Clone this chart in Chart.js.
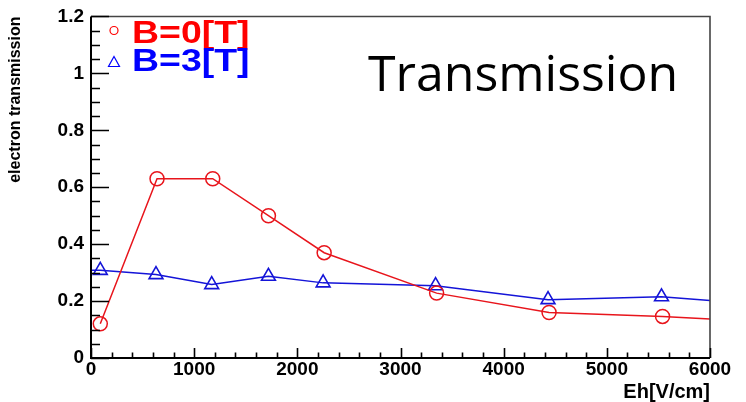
<!DOCTYPE html>
<html>
<head>
<meta charset="utf-8">
<script src="https://cdn.jsdelivr.net/npm/chart.js@4/dist/chart.umd.min.js"></script>
<style>
  html, body { margin: 0; padding: 0; background: #ffffff; }
  #wrap { width: 746px; height: 402px; position: relative; }
</style>
</head>
<body>
<div id="wrap"><canvas id="c" width="746" height="402"></canvas></div>
<script>
// Electron transmission vs. hole field, with and without magnetic field
const seriesNames = ['B=0[T]', 'B=3[T]'];
const fieldB0 = [90, 640, 1180, 1720, 2260, 3350, 4440, 5540];
const transB0 = [0.12, 0.63, 0.63, 0.50, 0.37, 0.228, 0.16, 0.146];
const fieldB3 = [90, 630, 1170, 1720, 2250, 3340, 4430, 5530];
const transB3 = [0.308, 0.293, 0.258, 0.287, 0.264, 0.254, 0.205, 0.215];
// where each curve meets the frame
const tailB0 = [6000, 0.137];
const headB3 = [0, 0.308];
const tailB3 = [6000, 0.202];

const xTickValues = [0, 1000, 2000, 3000, 4000, 5000, 6000];
const xTickLabels = ['0', '1000', '2000', '3000', '4000', '5000', '6000'];
const yTickValues = [0, 0.2, 0.4, 0.6, 0.8, 1.0, 1.2];
const yTickLabels = ['0', '0.2', '0.4', '0.6', '0.8', '1', '1.2'];

const plotTitle = 'Transmission';
const xTitle = 'Eh[V/cm]';
const yTitle = 'electron transmission';

const RED = '#ff0000';
const BLUE = '#0000ff';
const RED_LINE = '#e8151c';
const BLUE_LINE = '#1414d8';
const LABEL_FONT = 'Liberation Sans, Arial, sans-serif';

function points(xs, ys) {
  return xs.map((x, i) => ({ x: x, y: ys[i] }));
}

const dataB0 = points(fieldB0, transB0).concat([{ x: tailB0[0], y: tailB0[1] }]);
const dataB3 = [{ x: headB3[0], y: headB3[1] }]
  .concat(points(fieldB3, transB3))
  .concat([{ x: tailB3[0], y: tailB3[1] }]);

// ROOT-style frame: inward ticks, thin top/right border, legend and caption inside the pad
const framePlugin = {
  id: 'frame',
  afterDatasetsDraw(chart) {
    const { ctx, chartArea: a, scales: { x, y } } = chart;
    ctx.save();
    // top and right border
    ctx.strokeStyle = '#444444';
    ctx.lineWidth = 1.6;
    ctx.beginPath();
    ctx.moveTo(a.left, a.top);
    ctx.lineTo(a.right, a.top);
    ctx.lineTo(a.right, a.bottom);
    ctx.stroke();

    // axes
    ctx.strokeStyle = '#000000';
    ctx.lineWidth = 2;
    ctx.beginPath();
    ctx.moveTo(a.left, a.top);
    ctx.lineTo(a.left, a.bottom);
    ctx.lineTo(a.right, a.bottom);
    ctx.stroke();

    // x ticks: major every 1000, minor every 200
    ctx.lineWidth = 1.6;
    ctx.beginPath();
    for (let v = 0; v <= 6000; v += 200) {
      const px = Math.round(x.getPixelForValue(v)) + 0.5;
      const len = (v % 1000 === 0) ? 10 : 5.5;
      ctx.moveTo(px, a.bottom);
      ctx.lineTo(px, a.bottom - len);
    }
    // y ticks: major every 0.2, minor every 0.05
    for (let k = 0; k <= 24; k++) {
      const py = Math.round(y.getPixelForValue(k * 0.05)) + 0.5;
      const len = (k % 4 === 0) ? 18 : 9;
      ctx.moveTo(a.left, py);
      ctx.lineTo(a.left + len, py);
    }
    ctx.stroke();
    ctx.restore();
  },
  afterDraw(chart) {
    const { ctx, chartArea: a } = chart;
    ctx.save();
    // legend
    const lx = a.left + 23;
    ctx.lineWidth = 1.2;
    ctx.strokeStyle = RED;
    ctx.beginPath();
    ctx.arc(lx, a.top + 14, 4, 0, Math.PI * 2);
    ctx.stroke();
    ctx.strokeStyle = BLUE;
    ctx.beginPath();
    const ty = a.top + 46;
    ctx.moveTo(lx, ty - 6);
    ctx.lineTo(lx + 5.5, ty + 4);
    ctx.lineTo(lx - 5.5, ty + 4);
    ctx.closePath();
    ctx.stroke();

    ctx.font = 'bold 32px ' + LABEL_FONT;
    ctx.textBaseline = 'alphabetic';
    ctx.textAlign = 'left';
    const entries = [[seriesNames[0], RED, a.top + 26], [seriesNames[1], BLUE, a.top + 54]];
    entries.forEach(([txt, col, base]) => {
      ctx.save();
      ctx.translate(a.left + 41, base);
      ctx.scale(1.17, 1);
      ctx.fillStyle = col;
      ctx.fillText(txt, 0, 0);
      ctx.restore();
    });

    // caption
    ctx.font = '50px "Open Sans", sans-serif';
    ctx.fillStyle = '#000000';
    ctx.fillText(plotTitle, 368, 91);
    ctx.restore();
  }
};

new Chart(document.getElementById('c'), {
  type: 'scatter',
  data: {
    datasets: [
      {
        label: seriesNames[0],
        data: dataB0,
        showLine: true,
        borderColor: RED_LINE,
        borderWidth: 1.5,
        tension: 0,
        pointStyle: 'circle',
        pointRadius: (c) => (c.dataIndex < fieldB0.length ? 7 : 0),
        pointBorderColor: RED_LINE,
        pointBackgroundColor: 'rgba(0,0,0,0)',
        pointBorderWidth: 1.5
      },
      {
        label: seriesNames[1],
        data: dataB3,
        showLine: true,
        borderColor: BLUE_LINE,
        borderWidth: 1.5,
        tension: 0,
        pointStyle: 'triangle',
        pointRadius: (c) => (c.dataIndex > 0 && c.dataIndex <= fieldB3.length ? 8 : 0),
        pointBorderColor: BLUE_LINE,
        pointBackgroundColor: 'rgba(0,0,0,0)',
        pointBorderWidth: 1.6
      }
    ]
  },
  options: {
    responsive: false,
    devicePixelRatio: 1,
    animation: false,
    events: [],
    layout: { padding: { left: 0, top: 16, right: 36, bottom: 0 } },
    plugins: {
      legend: { display: false },
      tooltip: { enabled: false },
      title: { display: false }
    },
    scales: {
      x: {
        type: 'linear',
        min: 0,
        max: 6000,
        afterBuildTicks(scale) { scale.ticks = xTickValues.map(v => ({ value: v })); },
        afterFit(scale) { scale.height = 44; },
        grid: { display: false, drawTicks: false },
        border: { display: false },
        ticks: {
          padding: 2,
          maxRotation: 0,
          autoSkip: false,
          color: '#000000',
          font: { family: LABEL_FONT, size: 19, weight: 'bold', lineHeight: 1 },
          callback: (v) => xTickLabels[xTickValues.indexOf(v)]
        },
        title: {
          display: true,
          text: xTitle,
          align: 'end',
          color: '#000000',
          padding: 0,
          font: { family: LABEL_FONT, size: 20, weight: 'bold', lineHeight: 1 }
        }
      },
      y: {
        type: 'linear',
        min: 0,
        max: 1.2,
        afterBuildTicks(scale) { scale.ticks = yTickValues.map(v => ({ value: v })); },
        afterFit(scale) { scale.width = 91; },
        grid: { display: false, drawTicks: false },
        border: { display: false },
        ticks: {
          padding: 7,
          autoSkip: false,
          color: '#000000',
          font: { family: LABEL_FONT, size: 19, weight: 'bold', lineHeight: 1 },
          callback: (v) => yTickLabels[yTickValues.indexOf(v)]
        },
        title: {
          display: true,
          text: yTitle,
          align: 'end',
          color: '#000000',
          padding: { top: 8, bottom: 0 },
          font: { family: LABEL_FONT, size: 16, weight: 'bold', lineHeight: 1 }
        }
      }
    }
  },
  plugins: [framePlugin]
});
</script>
</body>
</html>
